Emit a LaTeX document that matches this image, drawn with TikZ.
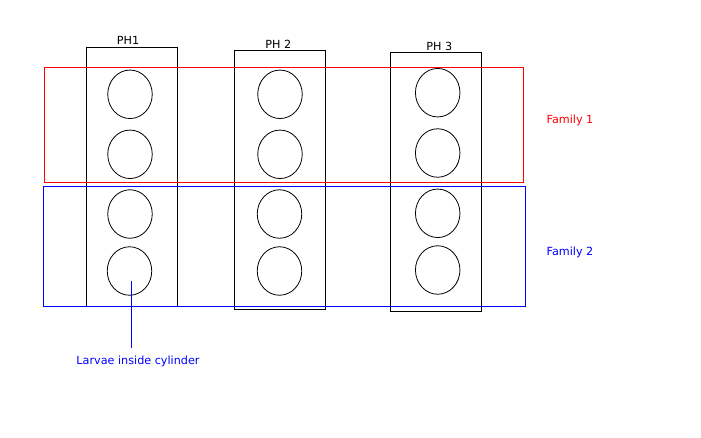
\documentclass[tikz,border=0pt]{standalone}
\usepackage{fontspec}
\setmainfont{DejaVu Sans}
\usetikzlibrary{shapes.geometric}
\definecolor{famred}{RGB}{255,0,0}
\definecolor{famblue}{RGB}{0,0,255}
\begin{document}
\begin{tikzpicture}[x=1pt,y=-1pt,
  lbl/.style={font=\fontsize{11.2}{12}\selectfont, inner sep=0pt},
  phbox/.style={draw=black, line width=1pt, minimum width=90.6pt, minimum height=259pt, inner sep=0pt},
  cyl/.style={draw=black, line width=0.8pt, ellipse, minimum width=44.5pt, minimum height=48.5pt, inner sep=0pt},
  fambox/.style={line width=1pt, inner sep=0pt}]
\useasboundingbox (0,0) rectangle (701,437);
% PH boxes
\node[phbox] (ph1) at (132,176.8) {};
\node[phbox, minimum width=91pt] (ph2) at (279.8,179.8) {};
\node[phbox, minimum height=258.7pt] (ph3) at (436,181.7) {};
% family boxes
\node[fambox, draw=famred, minimum width=479pt, minimum height=115pt] (fam1) at (283.8,124.8) {};
\node[fambox, draw=famblue, minimum width=482pt, minimum height=120pt] (fam2) at (284.3,246.3) {};
% cylinders
\node[cyl] (c11) at (130,94.3) {};
\node[cyl] (c12) at (130,154.3) {};
\node[cyl] (c13) at (130,214) {};
\node[cyl] (c14) at (129.5,271) {};
\node[cyl] (c21) at (280,94.3) {};
\node[cyl] (c22) at (280,154.3) {};
\node[cyl] (c23) at (279.5,214) {};
\node[cyl] (c24) at (279.5,271) {};
\node[cyl] (c31) at (437.7,92.7) {};
\node[cyl] (c32) at (437.7,153) {};
\node[cyl] (c33) at (437.7,213.3) {};
\node[cyl] (c34) at (437.7,270) {};
% labels
\node[lbl] (l1) at (128,40) {PH1};
\node[lbl] (l2) at (278.3,44.5) {PH 2};
\node[lbl] (l3) at (439.3,46.2) {PH 3};
\node[lbl, text=famred] (f1) at (570,120.5) {Family 1};
\node[lbl, text=famblue] (f2) at (570,252.5) {Family 2};
\node[lbl, text=famblue] (larv) at (138,361.5) {Larvae inside cylinder};
\coordinate (tip) at (131.3,281);
\coordinate (foot) at (131.3,347.5);
\draw[famblue, line width=0.9pt] (foot) -- (tip);
\end{tikzpicture}
\end{document}
